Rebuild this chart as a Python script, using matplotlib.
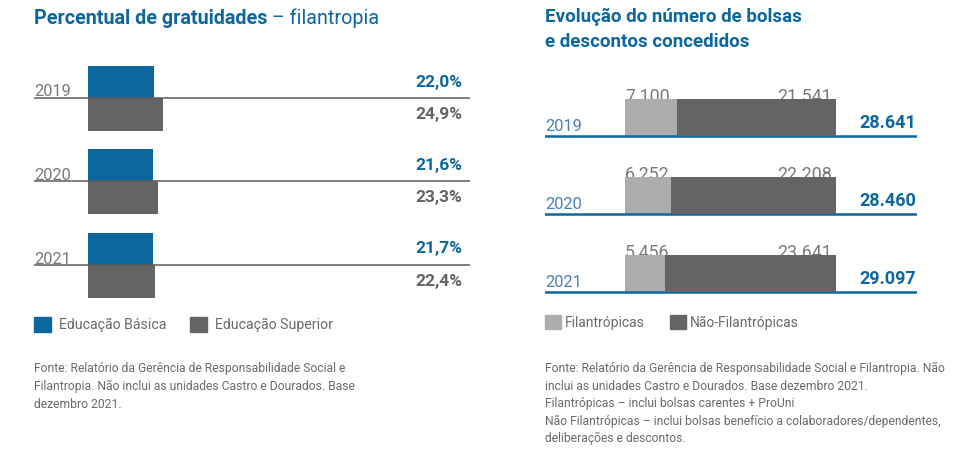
import matplotlib
matplotlib.use("Agg")
import matplotlib.pyplot as plt
from matplotlib.patches import Patch
from matplotlib.transforms import blended_transform_factory

plt.rcParams['font.family'] = ['Roboto', 'DejaVu Sans']

# ---------------- data ----------------
years = ["2019", "2020", "2021"]
edu_basica = [22.0, 21.6, 21.7]
edu_superior = [24.9, 23.3, 22.4]
filantropicas = [7100, 6252, 5456]
nao_filantropicas = [21541, 22208, 23641]

BLUE = "#0b679e"
DGRAY = "#646464"
LGRAY = "#adadad"
TGRAY = "#6a6a6a"
YGRAY = "#7a7a7a"
YBLUE = "#4a80b2"

W, H = 976, 461
fig = plt.figure(figsize=(W / 100, H / 100), dpi=100)


def rect(x0, y0, x1, y1):
    return [x0 / W, 1 - y1 / H, (x1 - x0) / W, (y1 - y0) / H]


def fmt_pt(v):
    return f"{v:.1f}".replace(".", ",") + "%"


def fmt_th(v):
    return f"{v:,}".replace(",", ".")


# ---------------- left chart ----------------
ax1 = fig.add_axes(rect(34, 50, 470, 300))
ax1.set_axis_off()
sp = 83.5
ax1.set_xlim((34 - 88) / 3, (470 - 88) / 3)
ax1.set_ylim((300 - 98) / sp, -(98 - 50) / sp)
hb = 32 / sp
hg = 33 / sp
tr1 = blended_transform_factory(ax1.transAxes, ax1.transData)
for i, y in enumerate(years):
    ax1.barh(i - hb, edu_basica[i], height=hb, align='edge', color=BLUE, zorder=2)
    ax1.barh(i, edu_superior[i], height=hg, align='edge', color=DGRAY, zorder=2)
    ax1.axhline(i, color="#5c5c5c", lw=1.1, zorder=3)
    ax1.text(0, i - 1.5 / sp, y, transform=tr1, ha='left', va='baseline',
             fontsize=11.8, color=YGRAY)
    ax1.text((462 - 34) / 436, i - 16 / sp, fmt_pt(edu_basica[i]), transform=tr1,
             ha='right', va='center', fontsize=12.5, fontweight='bold', color=BLUE)
    ax1.text((462 - 34) / 436, i + 16 / sp, fmt_pt(edu_superior[i]), transform=tr1,
             ha='right', va='center', fontsize=12.5, fontweight='bold', color=DGRAY)

# ---------------- right chart ----------------
ax2 = fig.add_axes(rect(545, 70, 917, 300))
ax2.set_axis_off()
sp2 = 78
bw = 211
ax2.set_xlim((545 - 625) / bw, (917 - 625) / bw)
ax2.set_ylim((300 - 136) / sp2, -(136 - 70) / sp2)
hbar = 37 / sp2
tr2 = blended_transform_factory(ax2.transAxes, ax2.transData)
for i, y in enumerate(years):
    tot = filantropicas[i] + nao_filantropicas[i]
    fl = filantropicas[i] / tot
    nf = nao_filantropicas[i] / tot
    ax2.barh(i - hbar, fl, height=hbar, align='edge', color=LGRAY, zorder=1)
    ax2.axhline(i, color=BLUE, lw=1.8, zorder=2)
    ax2.barh(i - hbar, nf, left=fl, height=hbar, align='edge', color=DGRAY, zorder=3)
    ax2.text(0, i - hbar + 3.5 / sp2, fmt_th(filantropicas[i]), ha='left', va='baseline',
             fontsize=12.8, color=YGRAY, zorder=0.5)
    ax2.text(fl + nf - 4 / bw, i - hbar + 3.5 / sp2, fmt_th(nao_filantropicas[i]),
             ha='right', va='baseline', fontsize=12.8, color=YGRAY, zorder=0.5)
    ax2.text(0, i - 5 / sp2, y, transform=tr2, ha='left', va='baseline',
             fontsize=11.8, color=YBLUE)
    ax2.text(1 - 1 / 372, i - 13 / sp2, fmt_th(tot), transform=tr2, ha='right',
             va='center', fontsize=13, fontweight='bold', color=BLUE)

# ---------------- titles ----------------
t1 = fig.text(34 / W, 1 - 18 / H, "Percentual de gratuidades", ha='left', va='center',
              fontsize=14.2, fontweight='bold', color=BLUE)
fig.canvas.draw()
ext = t1.get_window_extent(fig.canvas.get_renderer())
fig.text(ext.x1 / W, 1 - 18 / H, " – filantropia", ha='left', va='center',
         fontsize=14.2, color=BLUE)

fig.text(545 / W, 1 - 17 / H, "Evolução do número de bolsas", ha='left', va='center',
         fontsize=13.5, fontweight='bold', color=BLUE)
fig.text(545 / W, 1 - 42 / H, "e descontos concedidos", ha='left', va='center',
         fontsize=13.5, fontweight='bold', color=BLUE)

# ---------------- legends ----------------
fig.legend(handles=[Patch(color=BLUE, label="Educação Básica"),
                    Patch(color=DGRAY, label="Educação Superior")],
           loc='upper left', bbox_to_anchor=(34 / W, 1 - 317 / H), ncol=2,
           frameon=False, fontsize=10.2, handlelength=1.2, handleheight=1.2,
           handletextpad=0.55, columnspacing=1.7, borderpad=0, borderaxespad=0,
           labelcolor=TGRAY)
fig.legend(handles=[Patch(color=LGRAY, label="Filantrópicas"),
                    Patch(color=DGRAY, label="Não-Filantrópicas")],
           loc='upper left', bbox_to_anchor=(545 / W, 1 - 315 / H), ncol=2,
           frameon=False, fontsize=10, handlelength=1.15, handleheight=1.15,
           handletextpad=0.3, columnspacing=1.8, borderpad=0, borderaxespad=0,
           labelcolor=TGRAY)

# ---------------- footers ----------------
fig.text(34 / W, 1 - 362 / H,
         "Fonte: Relatório da Gerência de Responsabilidade Social e\n"
         "Filantropia. Não inclui as unidades Castro e Dourados. Base\n"
         "dezembro 2021.",
         ha='left', va='top', fontsize=8.7, color=TGRAY, linespacing=1.5)
fig.text(545 / W, 1 - 362 / H,
         "Fonte: Relatório da Gerência de Responsabilidade Social e Filantropia. Não\n"
         "inclui as unidades Castro e Dourados. Base dezembro 2021.\n"
         "Filantrópicas – inclui bolsas carentes + ProUni\n"
         "Não Filantrópicas – inclui bolsas benefício a colaboradores/dependentes,\n"
         "deliberações e descontos.",
         ha='left', va='top', fontsize=8.7, color=TGRAY, linespacing=1.45)

fig.savefig("out.png", dpi=100)
